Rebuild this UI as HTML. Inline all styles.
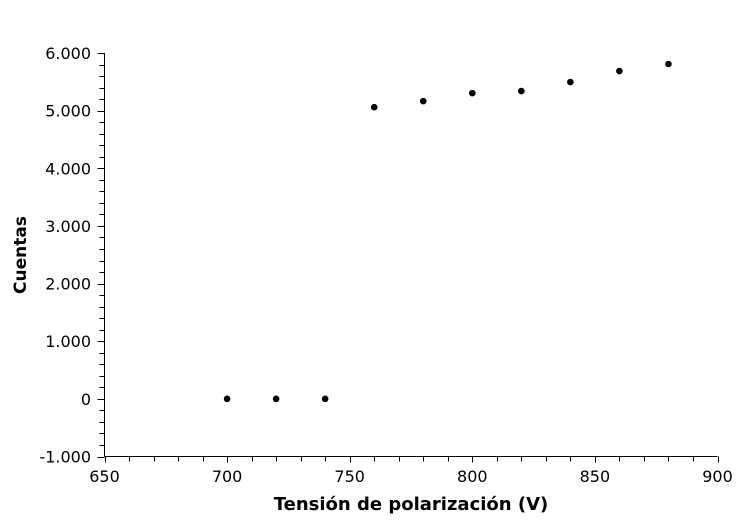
<!DOCTYPE html>
<html><head><meta charset="utf-8"><style>
body{margin:0;background:#fff}
svg text{font-family:"DejaVu Sans","Liberation Sans",sans-serif;fill:#000}
</style></head><body>
<svg id="chart" width="738" height="516" viewBox="0 0 738 516"></svg>
<script>
const xValues=[700,720,740,760,780,800,820,840,860,880];
const yValues=[0,0,0,5060,5165,5304,5339,5496,5687,5809];
const xTicks=[650,700,750,800,850,900];
const yTicks=[-1000,0,1000,2000,3000,4000,5000,6000];
const yTickLabels=["-1.000","0","1.000","2.000","3.000","4.000","5.000","6.000"];
const svg=document.getElementById('chart');
const NS='http://www.w3.org/2000/svg';
const X0=104.5,X1=717.5,Y0=456.5,Y1=53;
const xs=v=>X0+(v-650)/250*(X1-X0);
const ys=v=>Y0-(v+1000)/7000*(Y0-Y1);
function mk(t,a){const e=document.createElementNS(NS,t);for(const k in a)e.setAttribute(k,a[k]);svg.appendChild(e);return e;}
let e;
e=mk('line',{x1:X0,y1:Y1,x2:X0,y2:Y0,stroke:'#000','stroke-width':1});


e=mk('line',{x1:X0,y1:Y0,x2:X1,y2:Y0,stroke:'#000','stroke-width':1});


for(let v=650;v<=900;v+=10){
  const x=Math.round(xs(v))+0.5;
  e=mk('line',{x1:x,y1:Y0,x2:x,y2:Y0+(v%50===0?6:5),stroke:'#000'});
  
  
}
for(let v=-1000;v<=6000;v+=200){
  const y=Math.round(ys(v))+0.5;
  e=mk('line',{x1:X0,y1:y,x2:X0-(v%1000===0?7:5),y2:y,stroke:'#000'});
  
  
}
xTicks.forEach(v=>{
  e=mk('text',{x:xs(v),y:482,'text-anchor':'middle','font-size':16});
  e.textContent=v;
  
  
});
yTicks.forEach((v,i)=>{
  e=mk('text',{x:91,y:ys(v)+6,'text-anchor':'end','font-size':16});
  e.textContent=yTickLabels[i];
  
  
});
xValues.forEach((v,i)=>{
  e=mk('circle',{cx:xs(v),cy:ys(yValues[i]),r:3.3,fill:'#000'});
  
  
});
e=mk('text',{x:411,y:510,'text-anchor':'middle','font-size':18,'font-weight':'bold'});
e.textContent='Tensión de polarización (V)';


e=mk('text',{x:0,y:0,'text-anchor':'middle','font-size':17,'font-weight':'bold',transform:'translate(26,255) rotate(-90)'});
e.textContent='Cuentas';


</script>
</body></html>
